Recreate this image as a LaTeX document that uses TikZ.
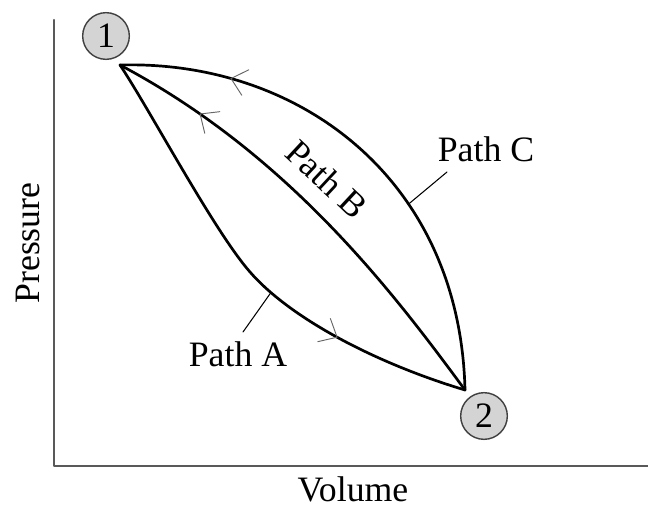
\documentclass[tikz,border=0pt]{standalone}
\usepackage{fontspec}
\setmainfont{Liberation Serif}
\usetikzlibrary{arrows.meta,decorations.markings}
\begin{document}
\begin{tikzpicture}[x=0.03cm, y=-0.03cm, line join=round, line cap=round, font=\fontsize{30.5}{36}\selectfont,
    axis/.style={line width=2pt, draw=black!65},
    curve/.style={line width=2.3pt},
    leader/.style={line width=0.9pt},
    midarrow/.style={postaction={decorate}, decoration={markings, mark=at position #1 with {\arrow{Straight Barb[length=4.5mm, width=8mm, line width=0.8pt, color=black!60]}}}},
    state/.style={circle, draw=black!75, fill=black!17, line width=1.2pt, minimum size=1.4cm, inner sep=0pt}]
    \useasboundingbox (0,0) rectangle (648,508);
    % axes
    \coordinate (o) at (54,466);
    \draw[axis] (54,20) -- (o) -- (648,466);
    \node (vol) at (353,489) {Volume};
    \node[rotate=90] (pres) at (28,243) {Pressure};
    % states
    \node[state] (n1) at (106,36) {1};
    \node[state] (n2) at (484,416) {2};
    \coordinate (s1) at (120,65);
    \coordinate (s2) at (465,390);
    \coordinate (j) at (250,272);
    % paths
    \draw[curve, midarrow=0.72] (s1) .. controls (150,110) and (214,231) .. (j)
        .. controls (290,318) and (375,363) .. (s2) coordinate[pos=0.15] (tipA);
    \draw[curve, midarrow=0.805] (s2) .. controls (395,295) and (290,155) .. (s1);
    \draw[curve, midarrow=0.79] (s2) .. controls (460,180) and (300,60) .. (s1) coordinate[pos=0.35] (tipC);
    % labels
    \node (labA) at (238,354) {Path A};
    \node[rotate=-43] (labB) at (327,179) {Path B};
    \node (labC) at (486,149) {Path C};
    \coordinate (endA) at (243,332);
    \coordinate (endC) at (447,172);
    \draw[leader] (tipA) -- (endA);
    \draw[leader] (tipC) -- (endC);
\end{tikzpicture}
\end{document}
